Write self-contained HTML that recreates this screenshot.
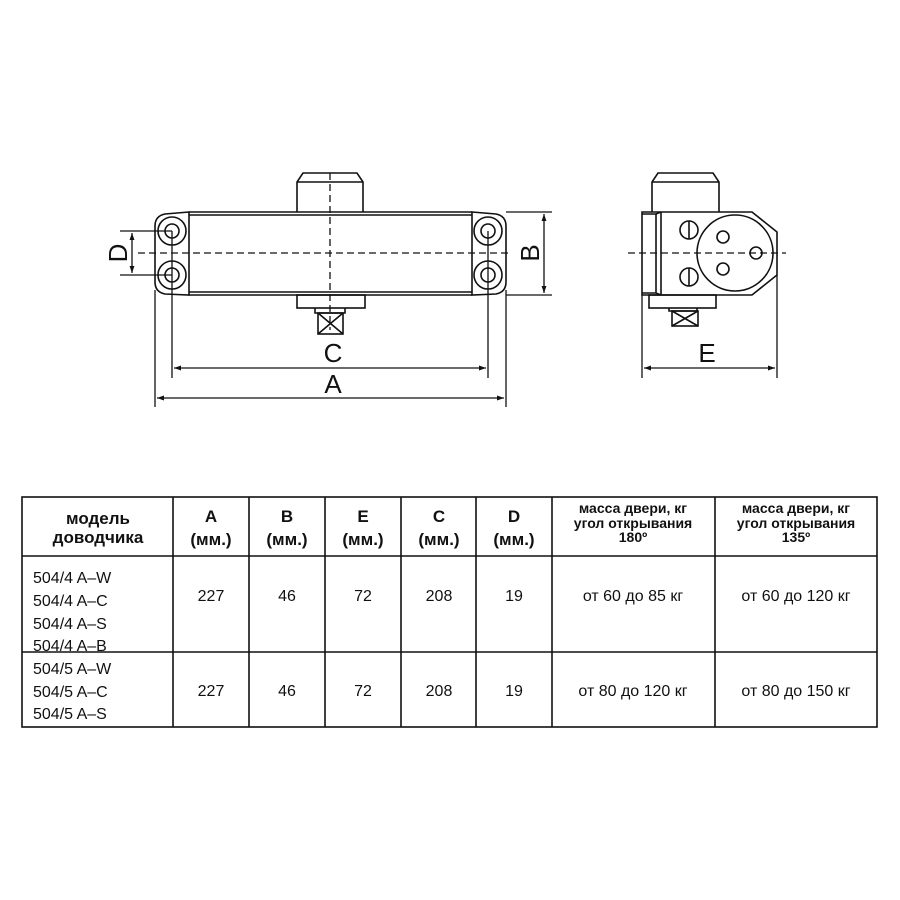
<!DOCTYPE html>
<html><head><meta charset="utf-8"><style>
html,body{margin:0;padding:0;background:#fff}
svg{display:block}
text{font-family:"Liberation Sans",Arial,sans-serif;fill:#111}
.b{font-weight:bold}
</style></head><body>
<svg width="900" height="900" viewBox="0 0 900 900" xmlns="http://www.w3.org/2000/svg">
<defs>
<marker id="ar" viewBox="0 0 10 10" refX="10" refY="5" markerWidth="10" markerHeight="7" orient="auto-start-reverse" markerUnits="userSpaceOnUse"><path d="M0,1.5 L10,5 L0,8.5 Z" fill="#111"/></marker>
</defs>
<g stroke="#111" stroke-width="1.6" fill="none">
<!-- front view -->
<path d="M297,212 V182 L303,173 H357 L363,182 V212"/>
<line x1="297" y1="182" x2="363" y2="182"/>
<path d="M189,212 H472 M189,295 H472 M189,215 H472 M189,292 H472"/>
<path d="M189,212 L165,214 Q155,216 155,226 V282 Q155,292 165,294 L189,295 Z"/>
<path d="M472,212 L496,214 Q506,216 506,226 V282 Q506,292 496,294 L472,295 Z"/>
<circle cx="172" cy="231" r="14"/><circle cx="172" cy="231" r="7"/>
<circle cx="172" cy="275" r="14"/><circle cx="172" cy="275" r="7"/>
<circle cx="488" cy="231" r="14"/><circle cx="488" cy="231" r="7"/>
<circle cx="488" cy="275" r="14"/><circle cx="488" cy="275" r="7"/>
<rect x="297" y="295" width="68" height="13"/>
<path d="M315,308 V313 H345 V308"/>
<rect x="318" y="313" width="25" height="21"/>
<path d="M318,313 L343,334 M343,313 L318,334"/>
<path d="M138,253 H508 M330,173 V330" stroke-dasharray="7,4" stroke-width="1.3"/>
<g stroke-width="1.3">
<path d="M120,231 H172 M120,275 H172"/>
<line x1="132" y1="233" x2="132" y2="273" marker-start="url(#ar)" marker-end="url(#ar)"/>
<path d="M506,212 H552 M506,295 H552"/>
<line x1="544" y1="214" x2="544" y2="293" marker-start="url(#ar)" marker-end="url(#ar)"/>
<path d="M172,231 V378 M488,231 V378"/>
<line x1="174" y1="368" x2="486" y2="368" marker-start="url(#ar)" marker-end="url(#ar)"/>
<path d="M155,290 V407 M506,290 V407"/>
<line x1="157" y1="398" x2="504" y2="398" marker-start="url(#ar)" marker-end="url(#ar)"/>
</g>
<!-- side view -->
<path d="M652,212 V182 L658,173 H713 L719,182 V212"/>
<line x1="652" y1="182" x2="719" y2="182"/>
<path d="M642,212 H752 L777,232 V275 L752,295 H642 Z"/>
<path d="M661,212 V295 M656,214 V293 M642,214 H656 L661,212 M642,293 H656 L661,295"/>
<circle cx="689" cy="230" r="9"/><line x1="689" y1="221" x2="689" y2="239"/>
<circle cx="689" cy="277" r="9"/><line x1="689" y1="268" x2="689" y2="286"/>
<circle cx="735" cy="253" r="38"/>
<circle cx="723" cy="237" r="6"/><circle cx="723" cy="269" r="6"/><circle cx="756" cy="253" r="6"/>
<rect x="649" y="295" width="67" height="13"/>
<path d="M669,308 V311 H697 V308"/>
<rect x="672" y="311" width="26" height="15"/>
<path d="M672,311 L698,326 M698,311 L672,326"/>
<line x1="628" y1="253" x2="786" y2="253" stroke-dasharray="7,4" stroke-width="1.3"/>
<g stroke-width="1.3">
<path d="M642,295 V378 M777,275 V378"/>
<line x1="644" y1="368" x2="775" y2="368" marker-start="url(#ar)" marker-end="url(#ar)"/>
</g>
<!-- table -->
<rect x="22" y="497" width="855" height="230"/>
<path d="M22,556 H877 M22,652 H877"/>
<path d="M173,497 V727 M249,497 V727 M325,497 V727 M401,497 V727 M476,497 V727 M552,497 V727 M715,497 V727"/>
</g>
<g font-size="26">
<text x="333" y="362" text-anchor="middle">C</text>
<text x="333" y="393" text-anchor="middle">A</text>
<text x="707" y="362" text-anchor="middle">E</text>
<text transform="translate(127,253) rotate(-90)" text-anchor="middle">D</text>
<text transform="translate(539,253) rotate(-90)" text-anchor="middle">B</text>
</g>
<g font-size="17" text-anchor="middle">
<text x="98" y="524" class="b">модель</text>
<text x="98" y="543" class="b">доводчика</text>
<text x="211" y="522" class="b">A</text><text x="211" y="545" class="b">(мм.)</text>
<text x="287" y="522" class="b">B</text><text x="287" y="545" class="b">(мм.)</text>
<text x="363" y="522" class="b">E</text><text x="363" y="545" class="b">(мм.)</text>
<text x="439" y="522" class="b">C</text><text x="439" y="545" class="b">(мм.)</text>
<text x="514" y="522" class="b">D</text><text x="514" y="545" class="b">(мм.)</text>
</g>
<g font-size="14" text-anchor="middle">
<text x="633" y="513" class="b">масса двери, кг</text>
<text x="633" y="528" class="b">угол открывания</text>
<text x="633" y="542" class="b">180º</text>
<text x="796" y="513" class="b">масса двери, кг</text>
<text x="796" y="528" class="b">угол открывания</text>
<text x="796" y="542" class="b">135º</text>
</g>
<g font-size="16">
<text x="33" y="583">504/4 A–W</text>
<text x="33" y="606">504/4 A–C</text>
<text x="33" y="629">504/4 A–S</text>
<text x="33" y="651">504/4 A–B</text>
<text x="33" y="674">504/5 A–W</text>
<text x="33" y="697">504/5 A–C</text>
<text x="33" y="719">504/5 A–S</text>
</g>
<g font-size="16" text-anchor="middle">
<text x="211" y="601">227</text><text x="287" y="601">46</text><text x="363" y="601">72</text><text x="439" y="601">208</text><text x="514" y="601">19</text>
<text x="633" y="601">от 60 до 85 кг</text><text x="796" y="601">от 60 до 120 кг</text>
<text x="211" y="696">227</text><text x="287" y="696">46</text><text x="363" y="696">72</text><text x="439" y="696">208</text><text x="514" y="696">19</text>
<text x="633" y="696">от 80 до 120 кг</text><text x="796" y="696">от 80 до 150 кг</text>
</g>
</svg>
</body></html>
